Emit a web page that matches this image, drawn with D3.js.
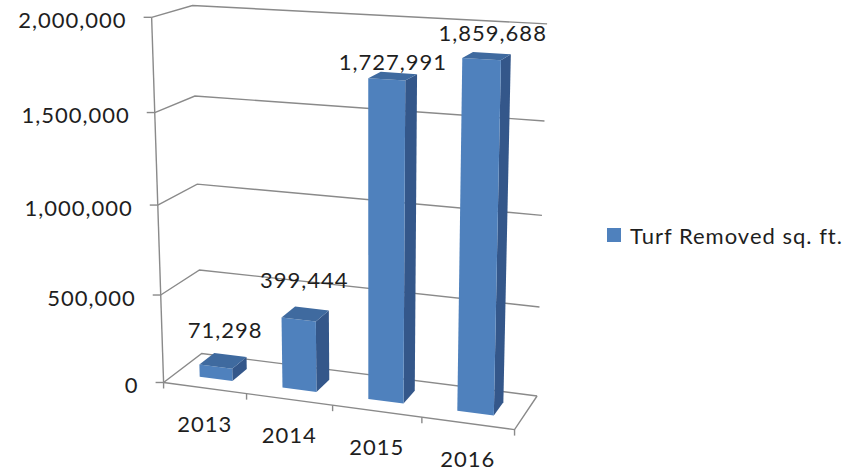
<!DOCTYPE html>
<html><head><meta charset="utf-8">
<script src="https://cdn.jsdelivr.net/npm/d3@7"></script>
<style>
body{margin:0;background:#fff}
svg{display:block}
text{font-family:Lato,"Open Sans",sans-serif;fill:#1e1e1e;font-size:22px;letter-spacing:1px}
</style>
</head><body>
<svg id="chart" width="861" height="469"></svg>
<script>
const categories = ["2013", "2014", "2015", "2016"];
const turfRemoved = [71298, 399444, 1727991, 1859688];
const valueTicks = [0, 500000, 1000000, 1500000, 2000000];
const seriesName = "Turf Removed sq. ft.";

// world box: X across the categories [0,4], Y as a fraction of the value range [0,1], Z depth [0,1]
const x = d3.scaleBand().domain(categories).range([0, 4]).paddingInner(0.6).paddingOuter(0.3);
const y = d3.scaleLinear().domain([0, 2000000]).range([0, 1]);
const barDepth = [0.3, 0.7];

// perspective camera as a 3x4 projective matrix (last entry 1)
const camera = [
  78.6083586, -20.3053716, 48.4861227, 163.5840983,
  4.1510833, -366.1147505, -10.8773836, 382.4855923,
  -0.0177508, -0.0550428, 0.0513043
];
function project(X, Y, Z) {
  const c = camera, d = c[8] * X + c[9] * Y + c[10] * Z + 1;
  return [(c[0] * X + c[1] * Y + c[2] * Z + c[3]) / d,
          (c[4] * X + c[5] * Y + c[6] * Z + c[7]) / d];
}

// small hand placement of the value labels, in pixels
const labelNudge = [[2, -6], [-1, -9], [0, 10], [6, 1]];

const svg = d3.select("#chart");
const line = d3.line();
const fmt = d3.format(",");

// gridlines run from the front-left axis, across the side wall and along the back wall
const grid = svg.append("g").attr("fill", "none").attr("stroke", "#8a8a8a").attr("stroke-width", 1.4);
valueTicks.forEach(t => {
  const Y = y(t);
  grid.append("path").attr("d", line([project(0, Y, 0), project(0, Y, 1), project(4, Y, 1)]));
});
// floor front and right edges
grid.append("path").attr("d", line([project(0, 0, 0), project(4, 0, 0), project(4, 0, 1)]));
// value axis
grid.append("path").attr("d", line([project(0, 0, 0), project(0, 1, 0)]));
valueTicks.forEach(t => {
  const [px, py] = project(0, y(t), 0);
  grid.append("path").attr("d", line([[px - 8, py], [px, py]]));
  svg.append("text").attr("x", px - 25).attr("y", py + 2).attr("text-anchor", "end")
    .attr("dominant-baseline", "central").text(fmt(t));
});
// category axis ticks and labels
d3.range(categories.length + 1).forEach(i => {
  const [px, py] = project(i, 0, 0);
  grid.append("path").attr("d", line([[px, py], [px, py + 6]]));
});
categories.forEach(c => {
  const [px, py] = project(x(c) + x.bandwidth() / 2, 0, 0);
  svg.append("text").attr("x", px).attr("y", py + 35).attr("text-anchor", "middle")
    .attr("dominant-baseline", "central").text(c);
});

// columns: right side, front and top faces
const bars = svg.append("g");
categories.forEach((c, i) => {
  const x0 = x(c), x1 = x(c) + x.bandwidth(), h = y(turfRemoved[i]);
  const [z0, z1] = barDepth;
  const g = bars.append("g");
  g.append("path").attr("fill", "#34578a")
    .attr("d", line([project(x1, 0, z0), project(x1, 0, z1), project(x1, h, z1), project(x1, h, z0)]) + "Z");
  g.append("path").attr("fill", "#4f81bd")
    .attr("d", line([project(x0, 0, z0), project(x1, 0, z0), project(x1, h, z0), project(x0, h, z0)]) + "Z");
  g.append("path").attr("fill", "#3f6a9f")
    .attr("d", line([project(x0, h, z0), project(x1, h, z0), project(x1, h, z1), project(x0, h, z1)]) + "Z");
  const [lx, ly] = project(x0 + x.bandwidth() / 2, h, 0.5);
  svg.append("text").attr("x", lx + labelNudge[i][0]).attr("y", ly - 25 + labelNudge[i][1])
    .attr("text-anchor", "middle").attr("dominant-baseline", "central").text(fmt(turfRemoved[i]));
});

// legend
const legend = svg.append("g").attr("transform", "translate(607,228)");
legend.append("rect").attr("width", 14).attr("height", 14).attr("fill", "#4f81bd");
legend.append("text").attr("x", 23).attr("y", 7).attr("dominant-baseline", "central").text(seriesName);
</script>
</body></html>
